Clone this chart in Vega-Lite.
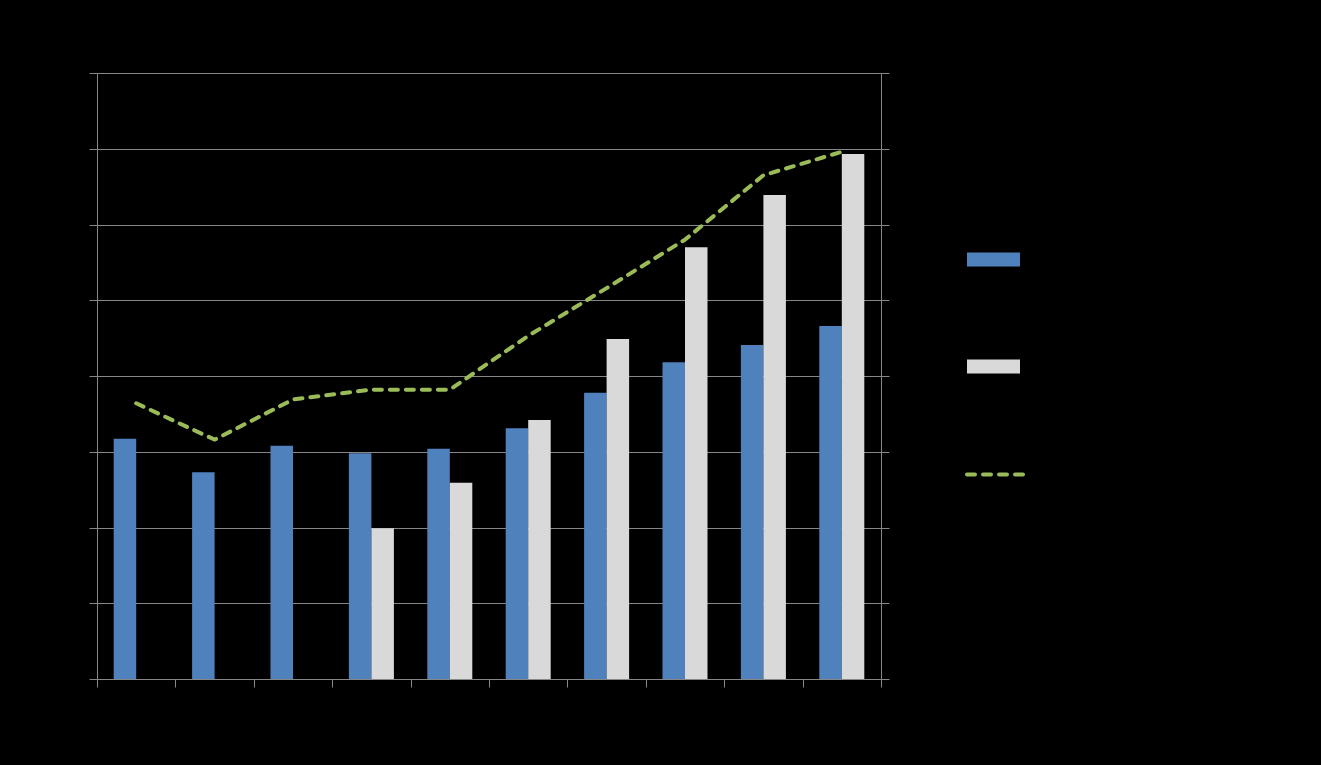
{
  "$schema": "https://vega.github.io/schema/vega-lite/v6.json",
  "width": 784,
  "height": 606,
  "autosize": {"type": "none"},
  "padding": {"left": 97, "top": 73, "right": 440, "bottom": 86},
  "background": "#000000",
  "config": {
    "view": {"stroke": null},
    "axis": {
      "domainColor": "#878787",
      "tickColor": "#878787",
      "gridColor": "#878787",
      "domainWidth": 1,
      "tickWidth": 1,
      "gridWidth": 1,
      "tickSize": 8,
      "labels": false,
      "title": null
    },
    "legend": {"labelColor": "#000000", "title": null}
  },
  "datasets": {
    "bars": [
      {"cat": "1", "series": "Series A", "value": 3.17},
      {"cat": "2", "series": "Series A", "value": 2.73},
      {"cat": "3", "series": "Series A", "value": 3.08},
      {"cat": "4", "series": "Series A", "value": 2.98},
      {"cat": "4", "series": "Series B", "value": 1.99},
      {"cat": "5", "series": "Series A", "value": 3.04},
      {"cat": "5", "series": "Series B", "value": 2.59},
      {"cat": "6", "series": "Series A", "value": 3.31},
      {"cat": "6", "series": "Series B", "value": 3.42},
      {"cat": "7", "series": "Series A", "value": 3.78},
      {"cat": "7", "series": "Series B", "value": 4.49},
      {"cat": "8", "series": "Series A", "value": 4.18},
      {"cat": "8", "series": "Series B", "value": 5.70},
      {"cat": "9", "series": "Series A", "value": 4.41},
      {"cat": "9", "series": "Series B", "value": 6.39},
      {"cat": "10", "series": "Series A", "value": 4.66},
      {"cat": "10", "series": "Series B", "value": 6.93}
    ],
    "line": [
      {"cat": "1", "series": "Series C", "value": 3.64},
      {"cat": "2", "series": "Series C", "value": 3.16},
      {"cat": "3", "series": "Series C", "value": 3.69},
      {"cat": "4", "series": "Series C", "value": 3.82},
      {"cat": "5", "series": "Series C", "value": 3.82},
      {"cat": "6", "series": "Series C", "value": 4.53},
      {"cat": "7", "series": "Series C", "value": 5.16},
      {"cat": "8", "series": "Series C", "value": 5.80},
      {"cat": "9", "series": "Series C", "value": 6.65},
      {"cat": "10", "series": "Series C", "value": 6.96}
    ]
  },
  "layer": [
    {
      "data": {"name": "bars"},
      "mark": {"type": "bar"},
      "encoding": {
        "x": {
          "field": "cat", "type": "nominal", "sort": null,
          "scale": {"domain": ["1","2","3","4","5","6","7","8","9","10"], "paddingInner": 0, "paddingOuter": 0},
          "axis": {"tickBand": "extent", "grid": false, "domain": true, "ticks": true}
        },
        "xOffset": {
          "field": "series", "type": "nominal",
          "scale": {"domain": ["Series A", "Series B"], "paddingInner": 0, "paddingOuter": 0.742}
        },
        "y": {
          "field": "value", "type": "quantitative",
          "scale": {"domain": [0, 8], "nice": false},
          "axis": {"orient": "left", "grid": true, "values": [0,1,2,3,4,5,6,7,8]}
        },
        "fill": {
          "field": "series", "type": "nominal",
          "scale": {"domain": ["Series A", "Series B"], "range": ["#4F81BD", "#D9D9D9"]},
          "legend": {
            "orient": "none",
            "legendX": 870,
            "legendY": 160,
            "symbolType": "M-1,-0.264H1V0.264H-1Z",
            "symbolSize": 2809,
            "symbolStrokeWidth": 0,
            "rowPadding": 73
          }
        }
      }
    },
    {
      "data": {"name": "line"},
      "mark": {"type": "line", "strokeWidth": 4, "strokeDash": [8, 8], "strokeCap": "round"},
      "encoding": {
        "x": {"field": "cat", "type": "nominal", "sort": null},
        "y": {
          "field": "value", "type": "quantitative",
          "scale": {"domain": [0, 8], "nice": false},
          "axis": {"orient": "right", "grid": false, "values": [0,1,2,3,4,5,6,7,8]}
        },
        "stroke": {
          "field": "series", "type": "nominal",
          "scale": {"domain": ["Series C"], "range": ["#9BBB59"]},
          "legend": {
            "orient": "none",
            "legendX": 868,
            "legendY": 371,
            "symbolType": "M-1,0H1",
            "symbolSize": 3249,
            "symbolStrokeWidth": 4,
            "symbolDash": [8, 8],
            "encode": {"symbols": {"update": {"strokeCap": {"value": "round"}}}}
          }
        }
      }
    }
  ],
  "resolve": {"scale": {"y": "independent"}}
}
